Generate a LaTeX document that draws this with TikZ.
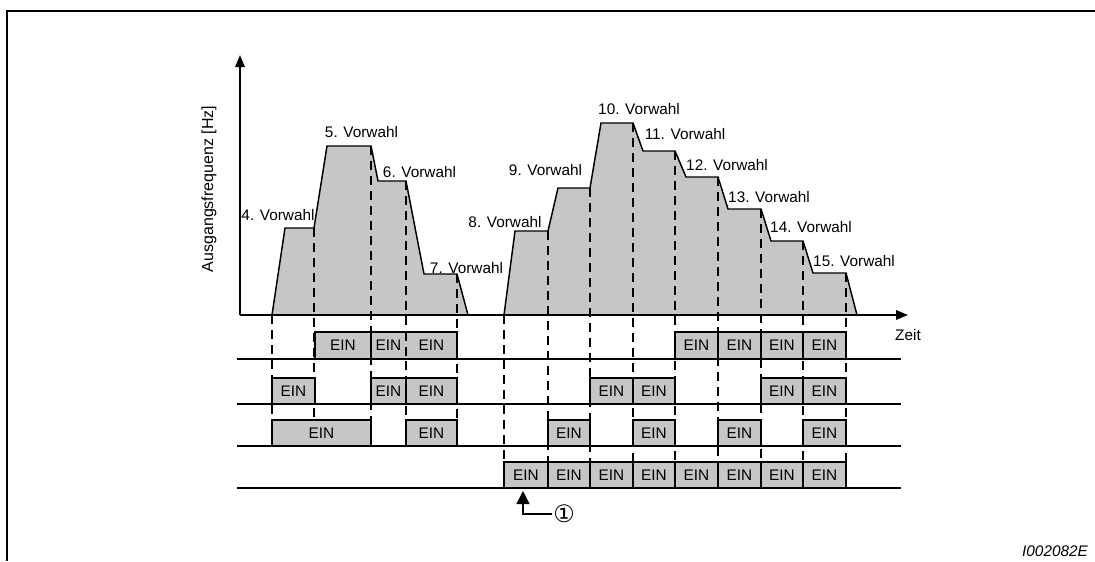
\documentclass[tikz,border=0pt]{standalone}
\usepackage{fontspec}
\setmainfont{Liberation Sans}
\newfontfamily\circfont{DejaVu Sans}
\usepackage{xcolor}
\usetikzlibrary{arrows.meta,positioning}

\definecolor{eingray}{RGB}{198,198,198}

\begin{document}
\begin{tikzpicture}[
    x=0.75pt, y=-0.75pt,
    every node/.style={inner sep=0pt, font=\fontsize{11.5}{13}\selectfont},
    axis/.style={-{Triangle[length=9pt, width=7pt]}, line width=1.5pt},
    profile/.style={draw, fill=eingray, line width=1.1pt},
    guide/.style={dash pattern=on 6.75pt off 4.5pt, line width=1pt},
    track/.style={line width=1.3pt},
    einbox/.style={draw, fill=eingray, line width=1.1pt},
    callout/.style={-{Triangle[length=9.75pt, width=9.75pt]}, line width=1.1pt}
]
\useasboundingbox (0,0) rectangle (1095,561);

% Frame
\draw[line width=2pt] (1095,11) -- (7,11) -- (7,561);

% Frequency profile
\draw[profile] (272,315) -- (285,228) -- (314,228) -- (327,146) -- (371,146) -- (378,181)
    -- (406,181) -- (424,274) -- (457,274) -- (468,315);
\draw[profile] (504,315) -- (515,231) -- (548,231) -- (558,188) -- (590,188) -- (601,123)
    -- (633,123) -- (643,151) -- (675,151) -- (686,177) -- (718,177) -- (728,209)
    -- (761,209) -- (771,241) -- (803,241) -- (813,273) -- (846,273) -- (857,315);

% Set points
\foreach \x/\y in {272/315, 314/228, 371/146, 406/181, 457/274}
    \draw[guide] (\x,\y) -- (\x,419);
\foreach \x/\y in {504/315, 548/231, 590/188, 633/123, 675/151, 718/177, 761/209, 803/241, 846/273}
    \draw[guide] (\x,\y) -- (\x,461);

% Axes
\coordinate (origin) at (240,315);
\coordinate (ytop) at (240,55);
\coordinate (xend) at (908,315);
\draw[axis] (origin) -- (ytop);
\draw[axis] (origin) -- (xend);
\node[rotate=90, anchor=base, font=\fontsize{12}{14}\selectfont] (ylabel) at (213,189) {Ausgangsfrequenz [Hz]};
\node (zeit) at (908,335) {Zeit};

% Vorwahl labels
\node (v4) at (278,215) {4. Vorwahl};
\node (v5) at (361.5,132) {5. Vorwahl};
\node (v6) at (419.5,172) {6. Vorwahl};
\node (v7) at (466.5,268) {7. Vorwahl};
\node (v8) at (505,222) {8. Vorwahl};
\node (v9) at (545.5,170) {9. Vorwahl};
\node (v10) at (639,109.5) {10. Vorwahl};
\node (v11) at (685,134.5) {11. Vorwahl};
\node (v12) at (727,165) {12. Vorwahl};
\node (v13) at (769,197) {13. Vorwahl};
\node (v14) at (811,227.5) {14. Vorwahl};
\node (v15) at (854,261) {15. Vorwahl};

% Signal tracks
\foreach \y in {359, 404, 446, 488}
    \draw[track] (237,\y) -- (901,\y);

% Signal 1
\draw[einbox] (315,332) rectangle (371,359);
\draw[einbox] (371,332) rectangle (457,359);
\draw[guide] (406,332) -- (406,359);
\node (s1a) at (343,345.5) {EIN};
\node (s1b) at (388.5,345.5) {EIN};
\node (s1c) at (431.5,345.5) {EIN};
\foreach \a/\b [count=\i] in {675/718, 718/761, 761/803, 803/846} {
    \draw[einbox] (\a,332) rectangle (\b,359);
    \node (s1r\i) at ({(\a+\b)/2},345.5) {EIN};
}

% Signal 2
\foreach \a/\b [count=\i] in {272/315, 371/406, 406/457, 590/633, 633/675, 761/803, 803/846} {
    \draw[einbox] (\a,378) rectangle (\b,404);
    \node (s2\i) at ({(\a+\b)/2},391) {EIN};
}

% Signal 3
\foreach \a/\b [count=\i] in {272/371, 406/457, 548/590, 633/675, 718/761, 803/846} {
    \draw[einbox] (\a,420) rectangle (\b,446);
    \node (s3\i) at ({(\a+\b)/2},433) {EIN};
}

% Signal 4
\foreach \a/\b [count=\i] in {504/548, 548/590, 590/633, 633/675, 675/718, 718/761, 761/803, 803/846} {
    \draw[einbox] (\a,462) rectangle (\b,488);
    \node (s4\i) at ({(\a+\b)/2},475) {EIN};
}

% Start marker
\node[font=\circfont\fontsize{18}{20}\selectfont] (one) at (564,514) {①};
\coordinate (tip) at (523,491);
\draw[callout] ([xshift=-1pt]one.west) -| (tip);

\node[font=\fontsize{11.5}{13}\selectfont\itshape] (code) at (1055,551) {I002082E};

\end{tikzpicture}
\end{document}
